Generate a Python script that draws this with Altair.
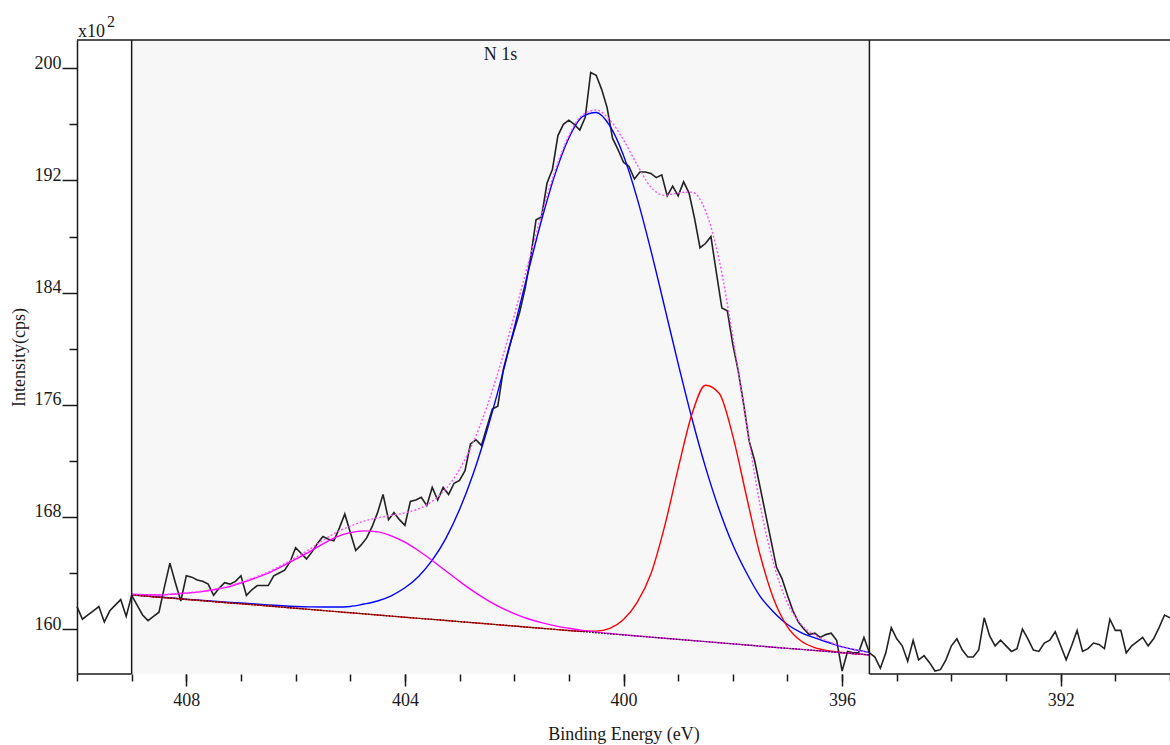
import altair as alt
import numpy as np
import pandas as pd

# ---- measured N 1s spectrum (x100 cps), 0.1 eV steps from 410.0 eV down to 390.0 eV
raw_start = 410.0
raw_step = 0.1
raw_counts = [
    161.6, 160.7, 161.0, 161.3, 161.6, 160.5, 161.3, 161.7, 162.1, 160.9,
    162.4, 161.7, 161.0, 160.6, 160.9, 161.2, 163.0, 164.7, 163.3, 162.0,
    163.8, 163.7, 163.5, 163.4, 163.2, 162.4, 162.9, 163.3, 163.2, 163.4,
    163.8, 162.4, 162.8, 163.1, 163.1, 163.1, 163.8, 164.0, 164.2, 164.8,
    165.8, 165.4, 165.0, 165.5, 166.1, 166.6, 166.4, 166.3, 167.2, 168.2,
    166.9, 165.6, 166.0, 166.5, 167.3, 168.3, 169.6, 167.8, 168.3, 167.8,
    167.4, 169.1, 169.2, 169.4, 168.8, 170.1, 169.2, 170.1, 169.6, 170.4,
    170.6, 171.3, 173.2, 173.5, 173.1, 174.4, 175.7, 175.9, 178.5, 180.0,
    181.3, 182.6, 184.3, 186.5, 189.2, 189.4, 191.8, 192.8, 195.2, 196.0,
    196.3, 196.0, 195.6, 196.5, 199.7, 199.5, 198.5, 197.2, 195.0, 194.2,
    193.3, 193.0, 192.1, 192.6, 192.6, 192.5, 192.2, 192.4, 190.9, 191.6,
    190.9, 191.9, 191.1, 189.3, 187.2, 187.5, 188.0, 185.4, 182.9, 182.7,
    180.3, 178.4, 176.0, 173.4, 172.0, 170.1, 168.2, 166.3, 164.4, 163.6,
    162.4, 161.3, 160.5, 160.0, 159.6, 159.7, 159.4, 159.6, 159.7, 159.2,
    157.0, 158.4, 158.3, 158.3, 159.4, 158.3, 158.0, 157.2, 158.3, 160.1,
    159.3, 158.8, 157.7, 159.2, 157.8, 158.1, 157.6, 157.0, 157.1, 157.8,
    158.8, 159.3, 158.5, 158.0, 158.0, 158.5, 160.8, 159.5, 158.8, 159.2,
    158.8, 158.4, 158.6, 160.0, 159.3, 158.5, 158.4, 159.0, 159.2, 159.8,
    158.8, 157.8, 158.8, 159.9, 158.4, 158.6, 159.0, 158.9, 158.6, 160.7,
    159.9, 159.9, 158.3, 158.8, 159.1, 159.4, 158.8, 159.3, 160.1, 161.0,
    160.8,
]
raw_energy = np.round(raw_start - raw_step * np.arange(len(raw_counts)), 2)

# ---- fitted region (409.0 -> 395.5 eV), 0.25 eV grid
fit_energy = np.round(np.linspace(409.0, 395.5, 55), 2)

# linear background under the region
background = [
    162.43, 162.35, 162.27, 162.19, 162.11, 162.03, 161.95, 161.87, 161.80, 161.72,
    161.64, 161.56, 161.48, 161.40, 161.32, 161.24, 161.16, 161.08, 161.00, 160.92,
    160.84, 160.76, 160.69, 160.61, 160.53, 160.45, 160.37, 160.29, 160.21, 160.13,
    160.05, 159.97, 159.89, 159.81, 159.73, 159.65, 159.58, 159.50, 159.42, 159.34,
    159.26, 159.18, 159.10, 159.02, 158.94, 158.86, 158.78, 158.70, 158.62, 158.55,
    158.47, 158.39, 158.31, 158.23, 158.15,
]

# component heights above the background
peak_blue = [
    0.01, 0.01, 0.01, 0.02, 0.02, 0.03, 0.03, 0.04, 0.05, 0.06,
    0.08, 0.10, 0.13, 0.18, 0.25, 0.33, 0.45, 0.70, 1.00, 1.45,
    2.10, 2.99, 4.22, 5.86, 7.99, 10.62, 13.77, 17.36, 21.25, 25.26,
    29.11, 32.50, 35.14, 36.74, 37.12, 36.24, 34.20, 31.22, 27.61, 23.66,
    19.67, 15.87, 12.45, 9.51, 7.07, 5.15, 3.55, 2.50, 1.70, 1.20,
    0.90, 0.65, 0.42, 0.28, 0.18,
]
peak_red = [
    0, 0, 0, 0, 0, 0, 0, 0, 0, 0,
    0, 0, 0, 0, 0, 0, 0, 0, 0, 0,
    0, 0, 0, 0, 0, 0, 0, 0, 0, 0,
    0, 0, 0, 0.03, 0.12, 0.40, 1.10, 2.40, 4.50, 7.95,
    12.18, 16.12, 18.29, 17.80, 14.84, 10.61, 6.50, 3.42, 1.54, 0.59,
    0.20, 0.06, 0.01, 0, 0,
]
peak_magenta = [
    0.05, 0.09, 0.16, 0.29, 0.45, 0.62, 0.85, 1.12, 1.48, 1.90,
    2.35, 2.90, 3.50, 4.10, 4.75, 5.33, 5.72, 5.92, 5.93, 5.73,
    5.35, 4.82, 4.20, 3.53, 2.87, 2.25, 1.71, 1.25, 0.89, 0.60,
    0.40, 0.25, 0.16, 0.09, 0.05, 0.03, 0.01, 0, 0, 0,
    0, 0, 0, 0, 0, 0, 0, 0, 0, 0,
    0, 0, 0, 0, 0,
]

region_edges = [409.0, 395.5]
x_major_ticks = [392, 396, 400, 404, 408]
x_minor_ticks = list(range(390, 411))
y_major_ticks = [160, 168, 176, 184, 192, 200]
y_minor_ticks = [164, 172, 180, 188, 196]

FONT = "Liberation Serif"
INK = "#1a1a1a"
W, H = 1093, 634

# ---- tables
raw_df = pd.DataFrame({"energy": raw_energy, "counts": raw_counts})
bg = np.array(background)
comp_df = pd.DataFrame({
    "energy": fit_energy,
    "background": bg,
    "blue": bg + np.array(peak_blue),
    "red": bg + np.array(peak_red),
    "magenta": bg + np.array(peak_magenta),
    "envelope": bg + np.array(peak_blue) + np.array(peak_red) + np.array(peak_magenta),
})
edges_df = pd.DataFrame({"energy": region_edges})
top_df = pd.DataFrame({"e1": [410.0], "e2": [390.0]})
bottom_df = pd.DataFrame({"e1": [410.0, region_edges[1]], "e2": [region_edges[0], 390.0]})
title_df = pd.DataFrame({"energy": [402.25], "label": ["N 1s"]})

xs = alt.Scale(domain=[390, 410], reverse=True, nice=False, zero=False)
ys = alt.Scale(domain=[156.79, 202.02], nice=False, zero=False)

x_major_axis = alt.Axis(
    orient="bottom", values=x_major_ticks, format="d", domain=False, grid=False,
    tickSize=12, tickWidth=1.5, tickColor=INK,
    labelFont=FONT, labelFontSize=18, labelColor=INK, labelPadding=5,
    labelFlush=False, labelOverlap=False,
    title="Binding Energy (eV)", titleFont=FONT, titleFontSize=18,
    titleFontWeight="normal", titleColor=INK, titlePadding=16,
)
x_minor_axis = alt.Axis(
    orient="bottom", values=x_minor_ticks, domain=False, grid=False, labels=False,
    tickSize=7, tickWidth=1.5, tickColor=INK, title=None,
)
y_major_axis = alt.Axis(
    orient="left", values=y_major_ticks, format="d", grid=False,
    domain=True, domainColor=INK, domainWidth=1.5,
    tickSize=15, tickWidth=1.5, tickColor=INK,
    labelFont=FONT, labelFontSize=18, labelColor=INK, labelPadding=1,
    labelBaseline="alphabetic", labelFlush=False, labelOverlap=False,
    title="Intensity(cps)", titleFont=FONT, titleFontSize=18,
    titleFontWeight="normal", titleColor=INK, titlePadding=6,
)
y_minor_axis = alt.Axis(
    orient="left", values=y_minor_ticks, domain=False, grid=False, labels=False,
    tickSize=8, tickWidth=1.5, tickColor=INK, title=None,
)


def X(field="energy"):
    return alt.X(f"{field}:Q", scale=xs, axis=None)


def Y(field):
    return alt.Y(f"{field}:Q", scale=ys, axis=None)


# shaded fit region
shade = alt.Chart(edges_df).transform_aggregate(
    e1="max(energy)", e2="min(energy)"
).mark_rect(color="#f7f7f7").encode(
    x=X("e1"), x2="e2", y=alt.value(0), y2=alt.value(H)
)

# measured spectrum (carries the major axes)
raw_line = alt.Chart(raw_df).mark_line(color="#222222", strokeWidth=1.6, interpolate="linear").encode(
    x=alt.X("energy:Q", scale=xs, axis=x_major_axis),
    y=alt.Y("counts:Q", scale=ys, axis=y_major_axis),
)

layers = [shade, raw_line]

for name, colour in [("blue", "#0000ff"), ("red", "#ff0000"), ("magenta", "#ff00ff")]:
    layers.append(
        alt.Chart(comp_df).mark_line(color=colour, strokeWidth=1.4, interpolate="monotone").encode(
            x=X(), y=Y(name)
        )
    )

# background, black dotted (carries the minor ticks)
layers.append(
    alt.Chart(comp_df).mark_line(color="#000000", strokeWidth=1.2, strokeDash=[1.5, 1.5]).encode(
        x=alt.X("energy:Q", scale=xs, axis=x_minor_axis),
        y=alt.Y("background:Q", scale=ys, axis=y_minor_axis),
    )
)

# envelope
layers.append(
    alt.Chart(comp_df).mark_line(color="#ff4dff", strokeWidth=1.4, strokeDash=[2, 2],
                                 interpolate="monotone").encode(x=X(), y=Y("envelope"))
)

# region frame
layers.append(
    alt.Chart(edges_df).mark_rule(color=INK, strokeWidth=1.5).encode(
        x=X(), y=alt.value(0), y2=alt.value(H)
    )
)
layers.append(
    alt.Chart(top_df).mark_rule(color=INK, strokeWidth=1.5).encode(
        x=X("e1"), x2="e2", y=alt.value(0)
    )
)
layers.append(
    alt.Chart(bottom_df).mark_rule(color=INK, strokeWidth=1.5).encode(
        x=X("e1"), x2="e2", y=alt.value(H)
    )
)

# region name
layers.append(
    alt.Chart(title_df).mark_text(font=FONT, fontSize=18, color=INK, baseline="alphabetic").encode(
        x=X(), y=alt.value(20), text="label:N"
    )
)

# intensity multiplier
mult_df = pd.DataFrame({"t": ["x10"], "s": ["2"]})
layers.append(
    alt.Chart(mult_df).mark_text(font=FONT, fontSize=18, color=INK, align="left",
                                 baseline="alphabetic").encode(
        x=alt.value(1), y=alt.value(-3), text="t:N"
    )
)
layers.append(
    alt.Chart(mult_df).mark_text(font=FONT, fontSize=16, color=INK, align="left",
                                 baseline="alphabetic").encode(
        x=alt.value(30), y=alt.value(-13), text="s:N"
    )
)

chart = alt.layer(*layers).resolve_axis(x="independent", y="independent").properties(
    width=W, height=H,
    autosize=alt.AutoSizeParams(type="none"),
    padding={"left": 77, "top": 40, "right": 0, "bottom": 71},
    background="white",
).configure_view(stroke=None)

chart.save("out.html", embed_options={"renderer": "svg", "actions": False})
